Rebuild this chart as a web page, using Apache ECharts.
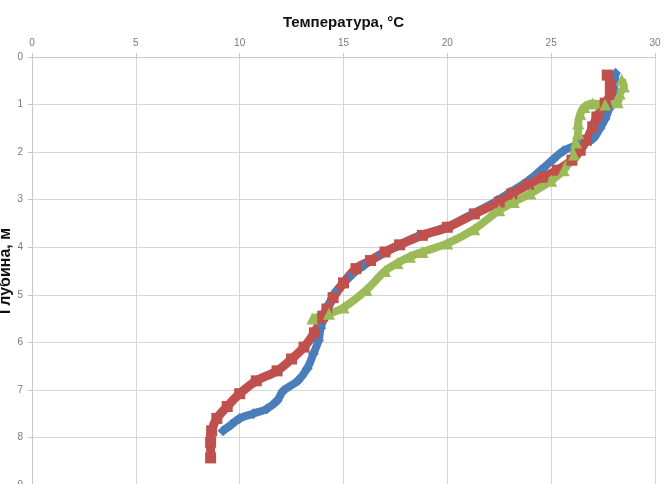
<!DOCTYPE html>
<html>
<head>
<meta charset="utf-8">
<script src="https://cdn.jsdelivr.net/npm/echarts@6/dist/echarts.min.js"></script>
<style>
  html, body { margin: 0; padding: 0; background: #ffffff; overflow: hidden; }
  #chart { width: 664px; height: 484px; }
</style>
</head>
<body>
<div id="chart"></div>
<script>
// Temperature profiles with depth: three soundings
const tempTicks = [0, 5, 10, 15, 20, 25, 30];
const depthTicks = [0, 1, 2, 3, 4, 5, 6, 7, 8, 9];

const blueTemp  = [28.1, 28.05, 28.0, 27.8, 27.6, 27.35, 27.0, 26.3, 25.6, 25.1, 24.5, 23.9, 23.0, 22.4, 21.2, 20.0, 18.7, 17.6, 16.8, 16.0, 15.3, 14.6, 14.3, 14.1, 13.9, 13.8, 13.55, 13.25, 12.8, 12.1, 11.8, 11.3, 10.65, 10.0, 9.6, 9.2];
const blueDepth = [0.34, 0.55, 0.76, 1.08, 1.3, 1.5, 1.72, 1.84, 1.97, 2.15, 2.38, 2.6, 2.85, 3.02, 3.3, 3.57, 3.75, 3.97, 4.15, 4.38, 4.62, 4.95, 5.2, 5.45, 5.7, 5.96, 6.24, 6.55, 6.81, 7.02, 7.23, 7.4, 7.5, 7.6, 7.73, 7.86];

const redTemp  = [27.7, 27.85, 27.85, 27.6, 27.2, 27.0, 26.7, 26.4, 26.0, 25.3, 24.6, 23.9, 23.1, 22.5, 21.3, 20.0, 18.8, 17.7, 17.0, 16.3, 15.6, 15.0, 14.5, 14.2, 14.0, 13.6, 13.1, 12.5, 11.8, 10.8, 10.0, 9.4, 8.9, 8.65, 8.6, 8.6];
const redDepth = [0.38, 0.6, 0.76, 0.97, 1.26, 1.47, 1.75, 1.96, 2.17, 2.38, 2.53, 2.68, 2.88, 3.05, 3.3, 3.58, 3.75, 3.95, 4.1, 4.28, 4.45, 4.75, 5.06, 5.3, 5.45, 5.8, 6.1, 6.35, 6.6, 6.81, 7.08, 7.35, 7.6, 7.86, 8.1, 8.43];

const greenTemp  = [28.4, 28.5, 28.3, 28.2, 27.6, 27.0, 26.6, 26.4, 26.3, 26.3, 26.2, 26.1, 25.6, 25.0, 24.0, 23.2, 22.5, 21.3, 20.0, 18.8, 18.2, 17.6, 17.0, 16.1, 15.0, 14.3, 13.5];
const greenDepth = [0.48, 0.62, 0.77, 0.95, 1.0, 0.98, 1.05, 1.2, 1.4, 1.6, 1.8, 2.05, 2.38, 2.6, 2.87, 3.05, 3.22, 3.62, 3.92, 4.1, 4.2, 4.33, 4.5, 4.9, 5.27, 5.4, 5.5];

function pairs(t, d) { return t.map((v, i) => [v, d[i]]); }

const chart = echarts.init(document.getElementById('chart'));

const axisGray = '#c8c8c8';
const labelGray = '#7a7a7a';

function profile(name, t, d, color, symbol, size, width) {
  return {
    name: name,
    type: 'line',
    data: pairs(t, d),
    smooth: 0.35,
    symbol: symbol,
    symbolSize: size,
    showAllSymbol: true,
    itemStyle: { color: color },
    lineStyle: { color: color, width: width },
    animation: false
  };
}

chart.setOption({
  backgroundColor: '#ffffff',
  animation: false,
  grid: { left: 32, right: 9, top: 57, bottom: -1, containLabel: false, outerBoundsMode: 'none' },
  xAxis: {
    type: 'value',
    position: 'top',
    min: tempTicks[0],
    max: tempTicks[tempTicks.length - 1],
    interval: 5,
    name: 'Температура, °C',
    nameLocation: 'middle',
    nameGap: 27,
    nameMoveOverlap: false,
    nameTextStyle: { fontFamily: 'Liberation Sans', fontWeight: 'bold', fontSize: 15, color: '#111' },
    axisLine: { show: true, lineStyle: { color: axisGray } },
    axisTick: { show: true, length: 4, lineStyle: { color: axisGray } },
    axisLabel: { color: labelGray, fontFamily: 'Liberation Sans', fontSize: 10, margin: 9 },
    splitLine: { show: true, lineStyle: { color: '#d6d6d6', width: 1 } }
  },
  yAxis: {
    type: 'value',
    inverse: true,
    min: depthTicks[0],
    max: depthTicks[depthTicks.length - 1],
    interval: 1,
    name: 'Глубина, м',
    nameLocation: 'middle',
    nameRotate: 90,
    nameGap: 18,
    nameMoveOverlap: false,
    nameTextStyle: { fontFamily: 'Liberation Sans', fontWeight: 'bold', fontSize: 16, color: '#111' },
    axisLine: { show: true, lineStyle: { color: axisGray } },
    axisTick: { show: true, length: 4, lineStyle: { color: axisGray } },
    axisLabel: { color: labelGray, fontFamily: 'Liberation Sans', fontSize: 10, margin: 9 },
    splitLine: { show: true, lineStyle: { color: '#d6d6d6', width: 1 } }
  },
  series: [
    profile('1', blueTemp, blueDepth, '#4a7ebb', 'diamond', 11, 8),
    profile('2', redTemp, redDepth, '#c0504d', 'rect', 11, 9),
    profile('3', greenTemp, greenDepth, '#9bbb59', 'triangle', 12, 8)
  ]
});
</script>
</body>
</html>
